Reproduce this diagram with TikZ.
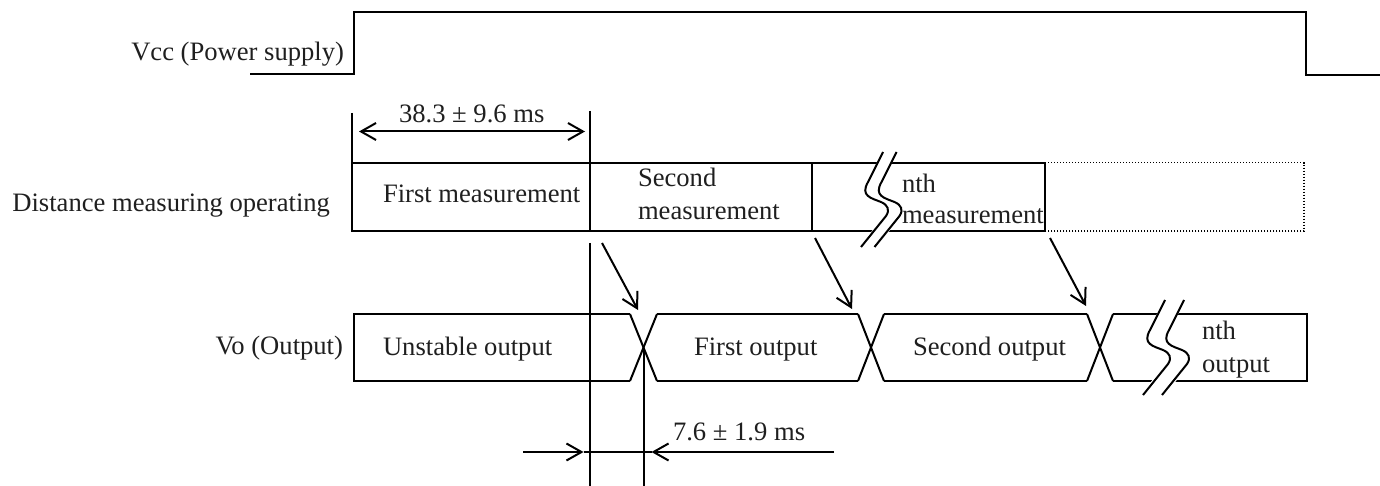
\documentclass[tikz,border=0pt]{standalone}
\usepackage{fontspec}
\setmainfont{Liberation Serif}
\usetikzlibrary{arrows.meta}
\newcommand{\Sbreak}[3]{%
  \draw[white,line width=#3pt,shift={(#1+#3/2,#2)}] (0,-3) -- (0,0) -- (-15,30) .. controls (-23,44) and (-12,46) .. (-2,50) .. controls (5,53) and (7,58) .. (3,64) -- (-22,95) -- (-23.5,97);
  \draw[wire,shift={(#1,#2)}] (0,0) -- (-15,30) .. controls (-23,44) and (-12,46) .. (-2,50) .. controls (5,53) and (7,58) .. (3,64) -- (-22,95);
  \draw[wire,shift={(#1+#3,#2)}] (0,0) -- (-15,30) .. controls (-23,44) and (-12,46) .. (-2,50) .. controls (5,53) and (7,58) .. (3,64) -- (-22,95);
}
\begin{document}
\begin{tikzpicture}[x=1pt,y=-1pt,
  lbl/.style={inner sep=0pt,outer sep=0pt,text=black!88,font=\fontsize{26.6}{32}\selectfont},
  wire/.style={line width=2pt,black},
  barb/.style={wire,-{Straight Barb[length=15pt,width=17pt]}},
  dbarb/.style={wire,{Straight Barb[length=15pt,width=17pt]}-{Straight Barb[length=15pt,width=17pt]}},
  dotline/.style={line width=1.3pt,black,dash pattern=on 1.3pt off 1.7pt}]
\useasboundingbox (0,0) rectangle (1380,486);

% ---- labels on the left
\node[lbl,anchor=base east] (vccl) at (344,61) {Vcc (Power supply)};
\node[lbl,anchor=base east] (dml) at (330,212) {Distance measuring operating};
\node[lbl,anchor=base east] (vol) at (343,354) {Vo (Output)};

% ---- Vcc waveform
\coordinate (v0) at (250,74.5);
\coordinate (v1) at (354,74.5);
\coordinate (v2) at (354,12);
\coordinate (v3) at (1306,12);
\coordinate (v4) at (1306,75);
\coordinate (v5) at (1380,75);
\draw[wire] (v0) -- (v1) -- (v2) -- (v3) -- (v4) -- (v5);

% ---- 38.3 dimension
\coordinate (tk1a) at (352,113);
\coordinate (tk1b) at (352,163);
\coordinate (tk2a) at (590,111);
\coordinate (tk2b) at (590,231);
\draw[wire] (tk1a) -- (tk1b);
\draw[wire] (tk2a) -- (tk2b);
\coordinate (d1a) at (359,131.5);
\coordinate (d1b) at (585,131.5);
\draw[dbarb] (d1a) -- (d1b);
\node[lbl,anchor=base west] (d1t) at (399,123) {38.3 ± 9.6 ms};

% ---- measurement row
\coordinate (m0) at (352,162.7);
\coordinate (m1) at (1045,231);
\draw[wire] (m0) rectangle (m1);
\coordinate (md1a) at (812,162.7);
\coordinate (md1b) at (812,231);
\draw[wire] (md1a) -- (md1b);
\coordinate (dt0) at (1045,162.7);
\coordinate (dt1) at (1304,162.7);
\coordinate (dt2) at (1304,231);
\coordinate (dt3) at (1045,231);
\draw[dotline] (dt0) -- (dt1) -- (dt2) -- (dt3);
\Sbreak{883}{152}{13.5}
\node[lbl,anchor=base west] (m1t) at (383,203) {First measurement};
\node[lbl,anchor=base west] (m2ta) at (638,187) {Second};
\node[lbl,anchor=base west] (m2tb) at (638,220) {measurement};
\node[lbl,anchor=base west] (m3ta) at (902,193) {nth};
\node[lbl,anchor=base west] (m3tb) at (902,224) {measurement};

% ---- output row
\coordinate (o0t) at (630,314);  \coordinate (o0b) at (630,381);
\coordinate (o1t) at (657,314);  \coordinate (o1b) at (657,381);
\coordinate (o2t) at (858,314);  \coordinate (o2b) at (858,381);
\coordinate (o3t) at (884,314);  \coordinate (o3b) at (884,381);
\coordinate (o4t) at (1087,314); \coordinate (o4b) at (1087,381);
\coordinate (o5t) at (1113,314); \coordinate (o5b) at (1113,381);
\coordinate (oLt) at (354,314);  \coordinate (oLb) at (354,381);
\coordinate (oRt) at (1307,314); \coordinate (oRb) at (1307,381);
\draw[wire] (o0t) -- (oLt) -- (oLb) -- (o0b);
\draw[wire] (o0t) -- (o1b);
\draw[wire] (o0b) -- (o1t);
\draw[wire] (o1t) -- (o2t);
\draw[wire] (o1b) -- (o2b);
\draw[wire] (o2t) -- (o3b);
\draw[wire] (o2b) -- (o3t);
\draw[wire] (o3t) -- (o4t);
\draw[wire] (o3b) -- (o4b);
\draw[wire] (o4t) -- (o5b);
\draw[wire] (o4b) -- (o5t);
\draw[wire] (o5t) -- (oRt) -- (oRb) -- (o5b);
\Sbreak{1165}{300}{19}
\node[lbl,anchor=base west] (u1) at (383,355) {Unstable output};
\node[lbl,anchor=base west] (u2) at (694,355) {First output};
\node[lbl,anchor=base west] (u3) at (913,355) {Second output};
\node[lbl,anchor=base west] (u4a) at (1202,339) {nth};
\node[lbl,anchor=base west] (u4b) at (1202,372) {output};

% ---- diagonal arrows
\coordinate (a1s) at (602,243);  \coordinate (a1e) at (638,310);
\coordinate (a2s) at (815,238);  \coordinate (a2e) at (852,309);
\coordinate (a3s) at (1050,238); \coordinate (a3e) at (1086,306);
\draw[barb] (a1s) -- (a1e);
\draw[barb] (a2s) -- (a2e);
\draw[barb] (a3s) -- (a3e);

% ---- lower verticals and 7.6 dimension
\coordinate (vl1a) at (590,243);
\coordinate (vl1b) at (590,486);
\coordinate (xc1) at (643.5,347.5);
\coordinate (vl2b) at (643.5,486);
\draw[wire] (vl1a) -- (vl1b);
\draw[wire] (xc1) -- (vl2b);
\coordinate (b0) at (523,452);
\coordinate (b1) at (583.5,452);
\coordinate (b2) at (651.5,452);
\coordinate (b3) at (834,452);
\draw[barb] (b0) -- (b1);
\draw[wire] (b1) -- (b2);
\draw[barb] (b3) -- (b2);
\node[lbl,anchor=base west] (d2t) at (673,440) {7.6 ± 1.9 ms};
\end{tikzpicture}
\end{document}
